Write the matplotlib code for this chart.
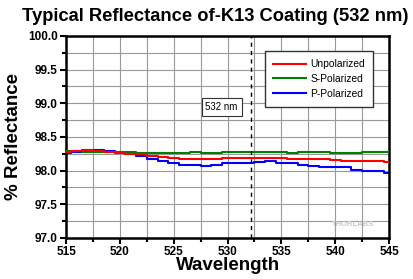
import numpy as np
import matplotlib
matplotlib.use("Agg")
from matplotlib import pyplot as plt
from matplotlib.ticker import MultipleLocator

plt.rcParams['font.family'] = ['Liberation Sans', 'DejaVu Sans']

# wavelength (nm) and reflectance (%)
wl = [515, 516, 517, 518, 519, 520, 521, 522, 523, 524, 525, 526, 527, 528,
      529, 530, 531, 532, 533, 534, 535, 536, 537, 538, 539, 540, 541, 542,
      543, 544, 545]
unpolarized = [98.27, 98.29, 98.30, 98.29, 98.28, 98.265, 98.25, 98.24, 98.22, 98.21,
               98.19, 98.18, 98.17, 98.17, 98.18, 98.19, 98.19, 98.19, 98.19, 98.19,
               98.19, 98.18, 98.18, 98.17, 98.17, 98.16, 98.15, 98.14, 98.14, 98.14,
               98.13]
s_polarized = [98.29, 98.29, 98.28, 98.28, 98.27, 98.27, 98.27, 98.265, 98.265, 98.265,
               98.265, 98.265, 98.27, 98.265, 98.265, 98.27, 98.27, 98.27, 98.27, 98.27,
               98.27, 98.265, 98.27, 98.27, 98.27, 98.265, 98.265, 98.265, 98.27, 98.27,
               98.27]
p_polarized = [98.255, 98.28, 98.30, 98.31, 98.29, 98.265, 98.24, 98.22, 98.18, 98.15,
               98.12, 98.09, 98.09, 98.07, 98.08, 98.11, 98.11, 98.12, 98.13, 98.14,
               98.12, 98.11, 98.09, 98.07, 98.05, 98.06, 98.05, 98.01, 98.0, 98.0,
               97.97]

fig = plt.figure(figsize=(4.13, 2.79), dpi=100)
ax = fig.add_axes([0.160, 0.147, 0.782, 0.724])

ax.step(wl, unpolarized, where='mid', color='red', lw=1.5, label='Unpolarized', zorder=4)
ax.step(wl, s_polarized, where='mid', color='green', lw=1.5, label='S-Polarized', zorder=3)
ax.step(wl, p_polarized, where='mid', color='blue', lw=1.5, label='P-Polarized', zorder=2)

ax.axvline(532.15, color='black', ls=(0, (3, 3)), lw=1, zorder=5)
ax.text(529.45, 98.95, '532 nm', fontsize=7, ha='center', va='center', zorder=6,
        bbox=dict(boxstyle='square,pad=0.4', fc='white', ec='#333333', lw=0.8))

ax.set_xlim(515, 545)
ax.set_ylim(97.0, 100.0)
ax.xaxis.set_major_locator(MultipleLocator(5))
ax.xaxis.set_minor_locator(MultipleLocator(2.5))
ax.yaxis.set_major_locator(MultipleLocator(0.5))
ax.yaxis.set_minor_locator(MultipleLocator(0.25))
ax.yaxis.set_major_formatter(matplotlib.ticker.FormatStrFormatter('%.1f'))
ax.grid(True, which='both', color='#999999', lw=0.8, zorder=0)
ax.set_axisbelow(True)

for s in ax.spines.values():
    s.set_linewidth(1.8)
ax.tick_params(which='both', direction='out', width=1.5, top=False, right=False)
ax.tick_params(which='major', length=4)
ax.tick_params(which='minor', length=3)
for lab in ax.get_xticklabels() + ax.get_yticklabels():
    lab.set_fontweight('bold')
    lab.set_fontsize(8.5)
ax.tick_params(axis='x', pad=2)
ax.tick_params(axis='y', pad=2)

ax.set_xlabel('Wavelength', fontsize=13.5, fontweight='bold', labelpad=-1)
ax.set_ylabel('% Reflectance', fontsize=13.5, fontweight='bold', labelpad=4)
fig.text(0.522, 0.94, 'Typical Reflectance of-K13 Coating (532 nm)', fontsize=13.2,
         fontweight='bold', ha='center', va='center')

leg = ax.legend(loc='upper right', bbox_to_anchor=(0.967, 0.95), fontsize=7.4,
                frameon=True, fancybox=False, handlelength=3.2, borderpad=0.8,
                labelspacing=0.45, handletextpad=0.4)
leg.get_frame().set_edgecolor('#333333')
leg.get_frame().set_linewidth(1.0)
leg.get_frame().set_alpha(1)

ax.text(0.955, 0.05, 'THORLABS', transform=ax.transAxes, fontsize=5.5,
        fontweight='bold', color='#c8c8c8', ha='right', va='bottom', zorder=6)

fig.savefig('out.png', dpi=100)
